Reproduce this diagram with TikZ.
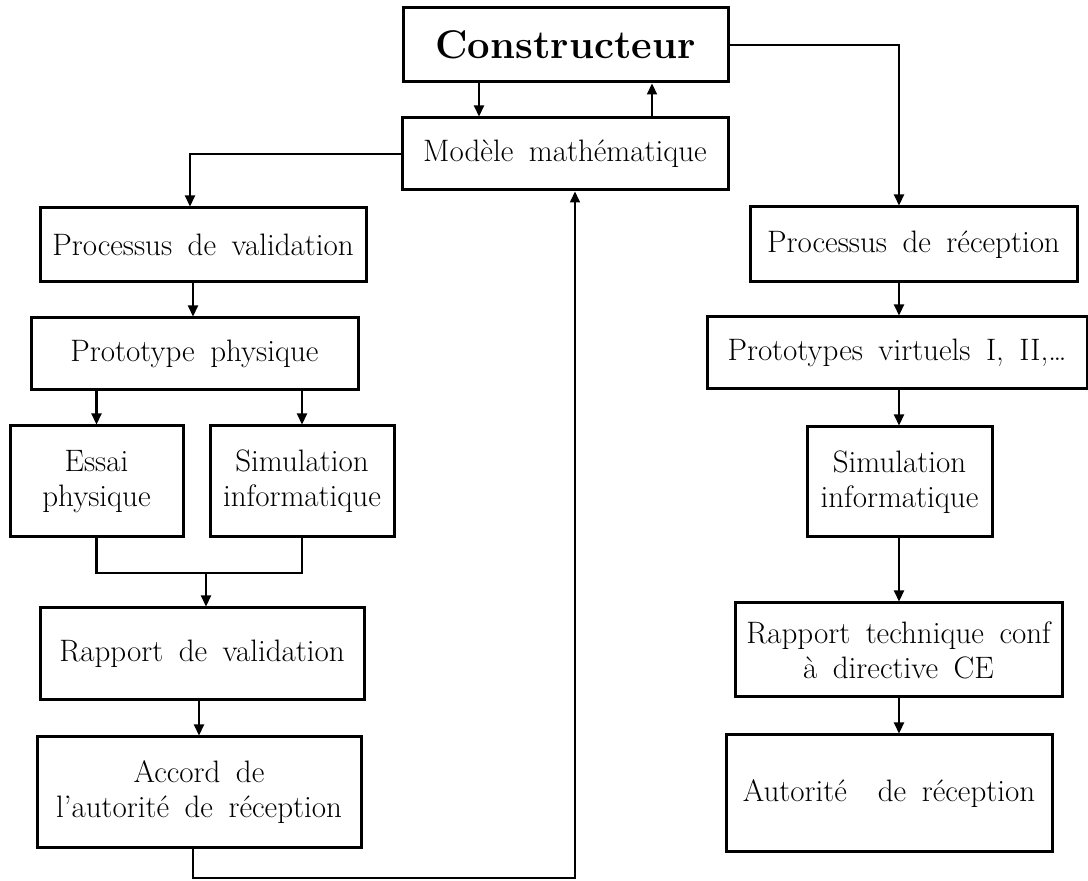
\documentclass[tikz,border=0pt]{standalone}
\usetikzlibrary{arrows.meta}
\newcommand\widespace{\spaceskip=0.5em plus 0.1em\relax}
\begin{document}
\begin{tikzpicture}[x=0.5pt,y=-0.5pt,
  box/.style={draw,line width=1.5pt,align=center,inner sep=0pt,font=\fontsize{15.5}{17.5}\selectfont\widespace},
  arr/.style={line width=1.1pt,-{Triangle[length=5.5pt,width=5pt]}},
  link/.style={line width=1.1pt}]
\useasboundingbox (0,0) rectangle (1088,881);
\node[box,minimum width=162.5pt,minimum height=37pt,font=\fontsize{20}{22}\selectfont\bfseries] (cons) at (565.5,45) {Constructeur};
\node[box,minimum width=163pt,minimum height=36pt] (model) at (565,154) {Modèle mathématique};
\node[box,minimum width=163pt,minimum height=37pt] (pval) at (203,245) {Processus de validation};
\node[box,minimum width=163.5pt,minimum height=36pt] (pphys) at (194.5,354) {Prototype physique};
\node[box,minimum width=86.5pt,minimum height=55.5pt] (essai) at (96.5,481.5) {Essai\\physique};
\node[box,minimum width=92pt,minimum height=55.5pt] (simL) at (302,481.5) {Simulation\\informatique};
\node[box,minimum width=162pt,minimum height=46pt] (rval) at (202,654) {Rapport de validation};
\node[box,minimum width=162pt,minimum height=55.5pt] (accord) at (199,792.5) {Accord de\\l'autorité de réception};
\node[box,minimum width=163.5pt,minimum height=37.5pt] (prec) at (913.5,244.5) {Processus de réception};
\node[box,minimum width=190pt,minimum height=36pt] (pvirt) at (897,353) {Prototypes virtuels I, II,\ldots};
\node[box,minimum width=92.5pt,minimum height=55pt] (simR) at (899.5,482) {Simulation\\informatique};
\node[box,minimum width=163.5pt,minimum height=47pt] (rtech) at (898.5,650) {Rapport technique conf\\à directive CE};
\node[box,minimum width=163pt,minimum height=58.5pt] (auth) at (889,793.5) {Autorité\ \ de réception};
\coordinate (cdown) at (479,0);
\coordinate (cup) at (652,0);
\coordinate (mleft) at (190,0);
\coordinate (colL) at (193,0);
\coordinate (colR) at (899,0);
\coordinate (join) at (206,573);
\coordinate (back) at (575,878);
\draw[arr] (cons.south -| cdown) -- (model.north -| cdown);
\draw[arr] (model.north -| cup) -- (cons.south -| cup);
\draw[arr] (model.west) -| (pval.north -| mleft);
\draw[arr] (cons.east) -| (prec.north -| colR);
\draw[arr] (pval.south -| colL) -- (pphys.north -| colL);
\draw[arr] (pphys.south -| essai) -- (essai.north);
\draw[arr] (pphys.south -| simL) -- (simL.north);
\draw[link] (essai.south) -- (essai.south |- join) -| (simL.south);
\draw[arr] (join) -- (join |- rval.north);
\draw[arr] (rval.south -| accord) -- (accord.north);
\draw[arr,line width=0.8pt] (accord.south -| colL) |- (back) -- (back |- model.south);
\draw[arr] (prec.south -| colR) -- (pvirt.north -| colR);
\draw[arr] (pvirt.south -| colR) -- (simR.north -| colR);
\draw[arr] (simR.south -| colR) -- (rtech.north -| colR);
\draw[arr] (rtech.south -| colR) -- (auth.north -| colR);
\end{tikzpicture}
\end{document}
